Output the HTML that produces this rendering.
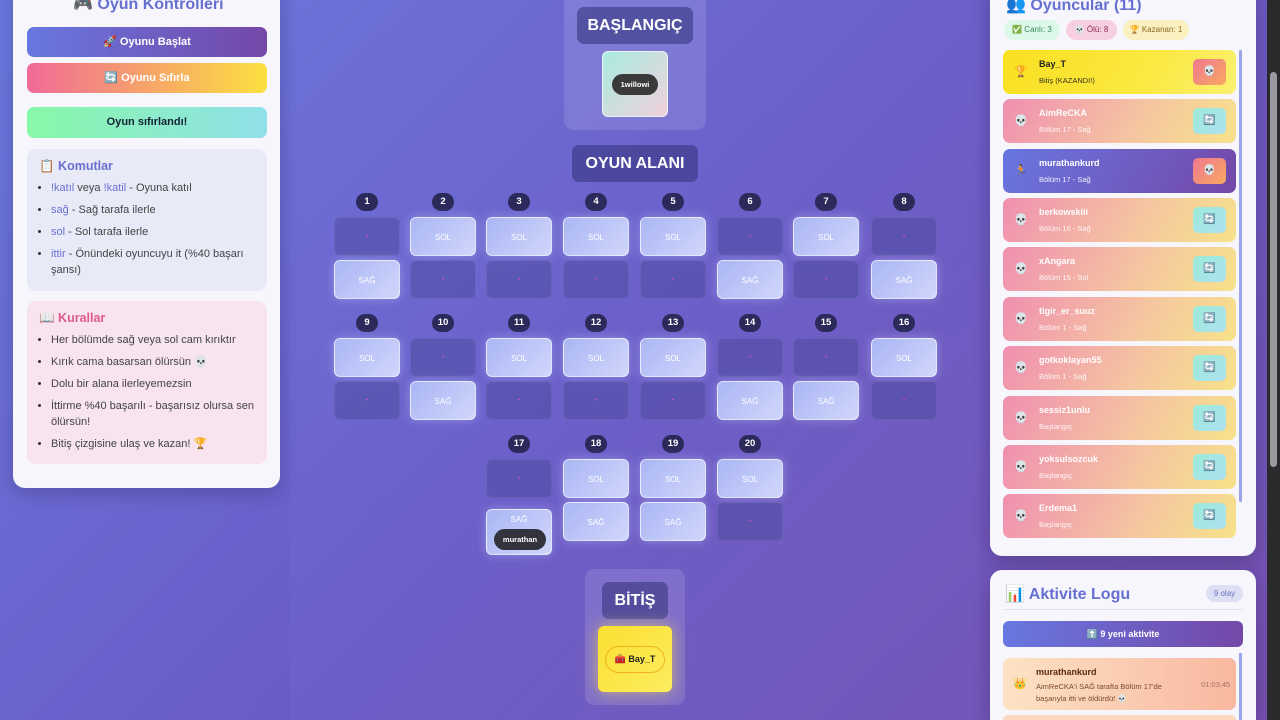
<!DOCTYPE html>
<html style="width:1280px;height:720px;overflow:hidden"><head><meta charset="utf-8"><style>
*{box-sizing:border-box;margin:0;padding:0}
body{width:1280px;height:720px;overflow:hidden;font-family:"Liberation Sans","DejaVu Sans",sans-serif;background:linear-gradient(135deg,#6a78e0 0%,#6a5cc8 50%,#7550b0 100%);position:relative}
.abs{position:absolute}
.center{position:absolute;left:290px;top:0;width:690px;height:720px;background:rgba(255,255,255,0.02)}
.panel{position:absolute;background:#f6f6fc;border-radius:12px;box-shadow:0 6px 20px rgba(0,0,0,.2)}
.btn{position:absolute;left:27px;width:240px;height:30px;border-radius:7px;color:#fff;font-size:11px;font-weight:bold;text-align:center;line-height:30px}
.box{position:absolute;left:27px;width:240px;border-radius:9px;padding:10px 12px}
.box h3{font-size:12.5px;margin-bottom:6px}
.box li{font-size:11px;color:#444;margin:0 0 6px 12px;line-height:16px}
.box li::marker{color:#333}
.kw{color:#6a70d0}
.badge{position:absolute;width:22px;height:18px;border-radius:9px;background:#2c2a5a;color:#fff;font-size:9.5px;font-weight:bold;text-align:center;line-height:18px}
.c{position:absolute;width:66px;height:39px;border-radius:6px;font-size:8px;color:#fff;text-align:center;line-height:39px}
.g{background:linear-gradient(135deg,#aab6f4,#d0d6fb);border:1.5px solid rgba(255,255,255,.6);box-shadow:0 0 10px rgba(200,210,255,.4)}
.d{background:rgba(70,70,150,.45);border:1px solid rgba(255,255,255,.08);color:#e04ab0;font-size:6px}
.lbl{position:absolute;background:rgba(50,50,120,.55);color:#fff;font-weight:bold;font-size:16px;text-align:center;border-radius:7px}
.pl{position:absolute;left:1003px;width:233px;height:44px;border-radius:7px;background:linear-gradient(120deg,#f08fb0,#f5c7a0 60%,#f7e28a);color:#fff}
.pl .n{position:absolute;left:36px;top:9px;font-size:9px;font-weight:bold}
.pl .s{position:absolute;left:36px;top:26px;font-size:7.5px;opacity:.9}
.pl .i{position:absolute;left:11px;top:15px;font-size:11px}
.pl .b{position:absolute;right:10px;top:9px;width:33px;height:26px;border-radius:5px;background:linear-gradient(135deg,#9cecd8,#aee0f0);text-align:center;line-height:26px;font-size:10px;color:#5b80d8}
</style></head><body>
<div class="center"></div>

<!-- Left panel -->
<div class="panel" style="left:13px;top:-20px;width:267px;height:508px"></div>
<div class="abs" style="left:73px;top:-6px;font-size:16px;font-weight:bold;color:#6670d0">🎮 Oyun Kontrolleri</div>
<div class="btn" style="top:27px;background:linear-gradient(90deg,#6877e0,#7448a8)">🚀 Oyunu Başlat</div>
<div class="btn" style="top:63px;background:linear-gradient(90deg,#f06a98,#f8b060 60%,#fbe040)">🔄 Oyunu Sıfırla</div>
<div class="btn" style="top:107px;height:31px;color:#123;background:linear-gradient(90deg,#88f8a8,#90e0e8)">Oyun sıfırlandı!</div>
<div class="box" style="top:149px;height:142px;background:#e8eaf8">
<h3 style="color:#6a70d0">📋 Komutlar</h3>
<ul><li><span class="kw">!katıl</span> veya <span class="kw">!katil</span> - Oyuna katıl</li>
<li><span class="kw">sağ</span> - Sağ tarafa ilerle</li>
<li><span class="kw">sol</span> - Sol tarafa ilerle</li>
<li><span class="kw">ittir</span> - Önündeki oyuncuyu it (%40 başarı şansı)</li></ul></div>
<div class="box" style="top:301px;height:163px;background:#f7e4ee">
<h3 style="color:#e05a90">📖 Kurallar</h3>
<ul><li>Her bölümde sağ veya sol cam kırıktır</li>
<li>Kırık cama basarsan ölürsün 💀</li>
<li>Dolu bir alana ilerleyemezsin</li>
<li>İttirme %40 başarılı - başarısız olursa sen ölürsün!</li>
<li>Bitiş çizgisine ulaş ve kazan! 🏆</li></ul></div>

<!-- Start -->
<div class="abs" style="left:564px;top:-10px;width:142px;height:140px;border-radius:10px;background:rgba(255,255,255,.12)"></div>
<div class="lbl" style="left:577px;top:7px;width:116px;height:37px;line-height:37px">BAŞLANGIÇ</div>
<div class="abs" style="left:602px;top:51px;width:66px;height:66px;border-radius:6px;background:linear-gradient(135deg,#a8ece0,#f0d0dc);border:1.5px solid rgba(255,255,255,.7)"></div>
<div class="abs" style="left:612px;top:74px;width:46px;height:21px;border-radius:11px;background:#3a3a3a;color:#fff;font-size:7.5px;font-weight:bold;text-align:center;line-height:21px">1willowi</div>
<div class="lbl" style="left:572px;top:145px;width:126px;height:37px;line-height:37px">OYUN ALANI</div>

<!-- Grid row 1 -->
<div class="badge" style="left:356px;top:193px">1</div><div class="c d" style="left:334px;top:217px">•</div><div class="c g" style="left:334px;top:260px">SAĞ</div>
<div class="badge" style="left:432px;top:193px">2</div><div class="c g" style="left:410px;top:217px">SOL</div><div class="c d" style="left:410px;top:260px">•</div>
<div class="badge" style="left:508px;top:193px">3</div><div class="c g" style="left:486px;top:217px">SOL</div><div class="c d" style="left:486px;top:260px">•</div>
<div class="badge" style="left:585px;top:193px">4</div><div class="c g" style="left:563px;top:217px">SOL</div><div class="c d" style="left:563px;top:260px">•</div>
<div class="badge" style="left:662px;top:193px">5</div><div class="c g" style="left:640px;top:217px">SOL</div><div class="c d" style="left:640px;top:260px">•</div>
<div class="badge" style="left:739px;top:193px">6</div><div class="c d" style="left:717px;top:217px">•</div><div class="c g" style="left:717px;top:260px">SAĞ</div>
<div class="badge" style="left:815px;top:193px">7</div><div class="c g" style="left:793px;top:217px">SOL</div><div class="c d" style="left:793px;top:260px">•</div>
<div class="badge" style="left:893px;top:193px">8</div><div class="c d" style="left:871px;top:217px">•</div><div class="c g" style="left:871px;top:260px">SAĞ</div>
<!-- row 2 -->
<div class="badge" style="left:356px;top:314px">9</div><div class="c g" style="left:334px;top:338px">SOL</div><div class="c d" style="left:334px;top:381px">•</div>
<div class="badge" style="left:432px;top:314px">10</div><div class="c d" style="left:410px;top:338px">•</div><div class="c g" style="left:410px;top:381px">SAĞ</div>
<div class="badge" style="left:508px;top:314px">11</div><div class="c g" style="left:486px;top:338px">SOL</div><div class="c d" style="left:486px;top:381px">•</div>
<div class="badge" style="left:585px;top:314px">12</div><div class="c g" style="left:563px;top:338px">SOL</div><div class="c d" style="left:563px;top:381px">•</div>
<div class="badge" style="left:662px;top:314px">13</div><div class="c g" style="left:640px;top:338px">SOL</div><div class="c d" style="left:640px;top:381px">•</div>
<div class="badge" style="left:739px;top:314px">14</div><div class="c d" style="left:717px;top:338px">•</div><div class="c g" style="left:717px;top:381px">SAĞ</div>
<div class="badge" style="left:815px;top:314px">15</div><div class="c d" style="left:793px;top:338px">•</div><div class="c g" style="left:793px;top:381px">SAĞ</div>
<div class="badge" style="left:893px;top:314px">16</div><div class="c g" style="left:871px;top:338px">SOL</div><div class="c d" style="left:871px;top:381px">•</div>
<!-- row 3 -->
<div class="badge" style="left:508px;top:435px">17</div><div class="c d" style="left:486px;top:459px">•</div>
<div class="c g" style="left:486px;top:509px;height:46px;line-height:20px">SAĞ</div>
<div class="abs" style="left:494px;top:529px;width:52px;height:21px;border-radius:11px;background:#33333d;color:#fff;font-size:7.5px;font-weight:bold;text-align:center;line-height:21px">murathan</div>
<div class="badge" style="left:585px;top:435px">18</div><div class="c g" style="left:563px;top:459px">SOL</div><div class="c g" style="left:563px;top:502px">SAĞ</div>
<div class="badge" style="left:662px;top:435px">19</div><div class="c g" style="left:640px;top:459px">SOL</div><div class="c g" style="left:640px;top:502px">SAĞ</div>
<div class="badge" style="left:739px;top:435px">20</div><div class="c g" style="left:717px;top:459px">SOL</div><div class="c d" style="left:717px;top:502px">•</div>

<!-- Finish -->
<div class="abs" style="left:585px;top:569px;width:100px;height:136px;border-radius:9px;background:rgba(255,255,255,.12)"></div>
<div class="lbl" style="left:602px;top:582px;width:66px;height:37px;line-height:37px">BİTİŞ</div>
<div class="abs" style="left:598px;top:626px;width:74px;height:66px;border-radius:6px;background:linear-gradient(135deg,#fbe030,#fcec60);box-shadow:0 0 16px rgba(250,230,80,.6)"></div>
<div class="abs" style="left:605px;top:646px;width:60px;height:27px;border-radius:14px;border:1.5px solid #f0b020;color:#222;font-size:9px;font-weight:bold;text-align:center;line-height:25px">🧰 Bay_T</div>

<!-- Right panel -->
<div class="panel" style="left:990px;top:-20px;width:266px;height:576px"></div>
<div class="abs" style="left:1006px;top:-5px;font-size:16px;font-weight:bold;color:#6670d0">👥 Oyuncular (11)</div>
<div class="abs" style="left:1004px;top:20px;width:56px;height:20px;border-radius:10px;background:#dcf8e8;color:#3a8a5a;font-size:8px;text-align:center;line-height:20px">✅ Canlı: 3</div>
<div class="abs" style="left:1066px;top:20px;width:51px;height:20px;border-radius:10px;background:#f6d0e0;color:#8a2a50;font-size:8px;text-align:center;line-height:20px">💀 Ölü: 8</div>
<div class="abs" style="left:1123px;top:20px;width:66px;height:20px;border-radius:10px;background:#faf0c0;color:#8a6a20;font-size:8px;text-align:center;line-height:20px">🏆 Kazanan: 1</div>
<div class="abs" style="left:1239px;top:50px;width:3px;height:452px;border-radius:2px;background:#9aa4e8"></div>

<div class="pl" style="top:50px;background:linear-gradient(120deg,#f8e020,#fce840 60%,#faf070);color:#222"><span class="i">🏆</span><span class="n">Bay_T</span><span class="s">Bitiş (KAZANDI!)</span><span class="b" style="background:linear-gradient(135deg,#f07890,#f8a860)">💀</span></div>
<div class="pl" style="top:99px"><span class="i">💀</span><span class="n">AimReCKA</span><span class="s">Bölüm 17 - Sağ</span><span class="b">🔄</span></div>
<div class="pl" style="top:149px;background:linear-gradient(120deg,#6876e0,#7448a8)"><span class="i">🏃</span><span class="n">murathankurd</span><span class="s">Bölüm 17 - Sağ</span><span class="b" style="background:linear-gradient(135deg,#f07890,#f8a860)">💀</span></div>
<div class="pl" style="top:198px"><span class="i">💀</span><span class="n">berkowskiii</span><span class="s">Bölüm 16 - Sağ</span><span class="b">🔄</span></div>
<div class="pl" style="top:247px"><span class="i">💀</span><span class="n">xAngara</span><span class="s">Bölüm 15 - Sol</span><span class="b">🔄</span></div>
<div class="pl" style="top:297px"><span class="i">💀</span><span class="n">tigir_er_suuz</span><span class="s">Bölüm 1 - Sağ</span><span class="b">🔄</span></div>
<div class="pl" style="top:346px"><span class="i">💀</span><span class="n">gotkoklayan55</span><span class="s">Bölüm 1 - Sağ</span><span class="b">🔄</span></div>
<div class="pl" style="top:396px"><span class="i">💀</span><span class="n">sessiz1unlu</span><span class="s">Başlangıç</span><span class="b">🔄</span></div>
<div class="pl" style="top:445px"><span class="i">💀</span><span class="n">yoksulsozcuk</span><span class="s">Başlangıç</span><span class="b">🔄</span></div>
<div class="pl" style="top:494px"><span class="i">💀</span><span class="n">Erdema1</span><span class="s">Başlangıç</span><span class="b">🔄</span></div>

<!-- Activity -->
<div class="panel" style="left:990px;top:570px;width:266px;height:150px;border-radius:12px 12px 0 0"></div>
<div class="abs" style="left:1005px;top:584px;font-size:16px;font-weight:bold;color:#6670d0">📊 Aktivite Logu</div>
<div class="abs" style="left:1206px;top:585px;width:37px;height:17px;border-radius:9px;background:#dde0f4;color:#6670c0;font-size:8px;text-align:center;line-height:17px">9 olay</div>
<div class="abs" style="left:1004px;top:609px;width:239px;height:1px;background:#e0e0ea"></div>
<div class="abs" style="left:1003px;top:621px;width:240px;height:26px;border-radius:6px;background:linear-gradient(90deg,#6877e0,#7448a8);color:#fff;font-size:9px;font-weight:bold;text-align:center;line-height:26px">⬆️ 9 yeni aktivite</div>
<div class="abs" style="left:1239px;top:653px;width:3px;height:67px;background:#9aa4e8"></div>
<div class="abs" style="left:1003px;top:658px;width:233px;height:52px;border-radius:7px;background:linear-gradient(90deg,#fde2c4,#f8b8a0)"></div>
<div class="abs" style="left:1013px;top:677px;font-size:11px">👑</div>
<div class="abs" style="left:1036px;top:667px;font-size:9px;font-weight:bold;color:#5a2a10">murathankurd</div>
<div class="abs" style="left:1036px;top:681px;width:140px;font-size:7.5px;line-height:12px;color:#7a4a30">AimReCKA'i SAĞ tarafta Bölüm 17'de başarıyla itti ve öldürdü! 💀</div>
<div class="abs" style="left:1201px;top:680px;font-size:7.5px;color:#a07060">01:03:45</div>
<div class="abs" style="left:1003px;top:715px;width:233px;height:5px;border-radius:7px 7px 0 0;background:#fbd8c0"></div>

<!-- scrollbar -->
<div class="abs" style="left:1267px;top:0;width:13px;height:720px;background:#2a2a2c"></div>
<div class="abs" style="left:1270px;top:72px;width:7px;height:395px;border-radius:4px;background:#9a9a9e"></div>
</body></html>
